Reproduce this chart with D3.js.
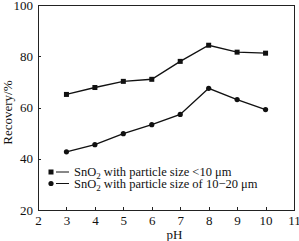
<!DOCTYPE html>
<html lang="en">
<head>
    <meta charset="UTF-8">
    <title>recovery vs pH</title>
    <script src="https://cdnjs.cloudflare.com/ajax/libs/d3/7.8.5/d3.min.js"></script>
    <style>
        body { margin: 0; background: #fff; }
        .chart text { font-family: "Liberation Serif", "Times New Roman", serif; fill: #111; }
        .axis path, .axis line { stroke: #222; shape-rendering: crispEdges; }
        .axis text { font-size: 13px; }
    </style>
</head>
<body>
    <svg class="chart"></svg>
    <script>
        const pH = [3, 4, 5, 6, 7, 8, 9, 10];
        const fine = [65.1, 67.8, 70.2, 71.0, 78.0, 84.3, 81.6, 81.2];    // < 10 um
        const coarse = [42.7, 45.5, 49.8, 53.3, 57.3, 67.5, 63.1, 59.2];  // 10-20 um
        const xTicks = [2, 3, 4, 5, 6, 7, 8, 9, 10, 11];
        const yTicks = [20, 40, 60, 80, 100];
        const seriesNames = ['with particle size <10 \u03bcm', 'with particle size of 10\u221220 \u03bcm'];

        const margin = {top: 5, right: 5, bottom: 31, left: 38},
            W = 299, H = 241,
            width = W - margin.left - margin.right,
            height = H - margin.top - margin.bottom;

        const x = d3.scaleLinear().domain([2, 11]).range([0, width]);
        const y = d3.scaleLinear().domain([20, 100]).range([height, 0]);

        const svg = d3.select('.chart').attr('width', W).attr('height', H);
        const chart = svg.append('g')
            .attr('transform', `translate(${margin.left}, ${margin.top})`);

        // frame
        chart.append('rect')
            .attr('width', width).attr('height', height)
            .attr('fill', 'none').attr('stroke', '#222')
            .attr('shape-rendering', 'crispEdges');

        chart.append('g')
            .attr('class', 'x axis')
            .attr('transform', `translate(0, ${height})`)
            .call(d3.axisBottom(x).tickValues(xTicks).tickSizeInner(-3).tickSizeOuter(0).tickPadding(6))
            .call(g => g.select('.domain').remove());

        chart.append('g')
            .attr('class', 'y axis')
            .call(d3.axisLeft(y).tickValues(yTicks).tickSizeInner(-3).tickSizeOuter(0).tickPadding(5))
            .call(g => g.select('.domain').remove());

        chart.append('text')
            .attr('x', x(6.8)).attr('y', H - margin.top - 2)
            .attr('text-anchor', 'middle')
            .style('font-size', '13px')
            .text('pH');

        chart.append('text')
            .attr('transform', `translate(${-26}, ${y(58)}) rotate(-90)`)
            .attr('text-anchor', 'middle')
            .style('font-size', '13px')
            .text('Recovery/%');

        const line = d3.line()
            .x((d, i) => x(pH[i]))
            .y(d => y(d));

        chart.append('path').datum(fine)
            .attr('d', line).attr('fill', 'none').attr('stroke', '#111').attr('stroke-width', 1.4);
        chart.append('path').datum(coarse)
            .attr('d', line).attr('fill', 'none').attr('stroke', '#111').attr('stroke-width', 1.4);

        chart.selectAll('.sq').data(fine).enter().append('rect')
            .attr('x', (d, i) => x(pH[i]) - 2.5)
            .attr('y', d => y(d) - 2.5)
            .attr('width', 5).attr('height', 5)
            .attr('fill', '#111');

        chart.selectAll('.dot').data(coarse).enter().append('circle')
            .attr('cx', (d, i) => x(pH[i]))
            .attr('cy', d => y(d))
            .attr('r', 2.6)
            .attr('fill', '#111');

        // legend
        const legend = chart.append('g').attr('transform', `translate(${13}, ${167})`);
        seriesNames.forEach((name, i) => {
            const row = legend.append('g').attr('transform', `translate(0, ${i * 11.5})`);
            if (i === 0) {
                row.append('rect').attr('x', -2.5).attr('y', -2.5).attr('width', 5).attr('height', 5).attr('fill', '#111');
            } else {
                row.append('circle').attr('r', 2.6).attr('fill', '#111');
            }
            row.append('line').attr('x1', 5).attr('x2', 18).attr('stroke', '#111').attr('stroke-width', 1);
            const t = row.append('text').attr('x', 23).attr('y', 4).style('font-size', '12.5px');
            t.append('tspan').text('SnO');
            t.append('tspan').attr('dy', 3).style('font-size', '9px').text('2');
            t.append('tspan').attr('dy', -3).text(' ' + name);
        });
    </script>
</body>
</html>
